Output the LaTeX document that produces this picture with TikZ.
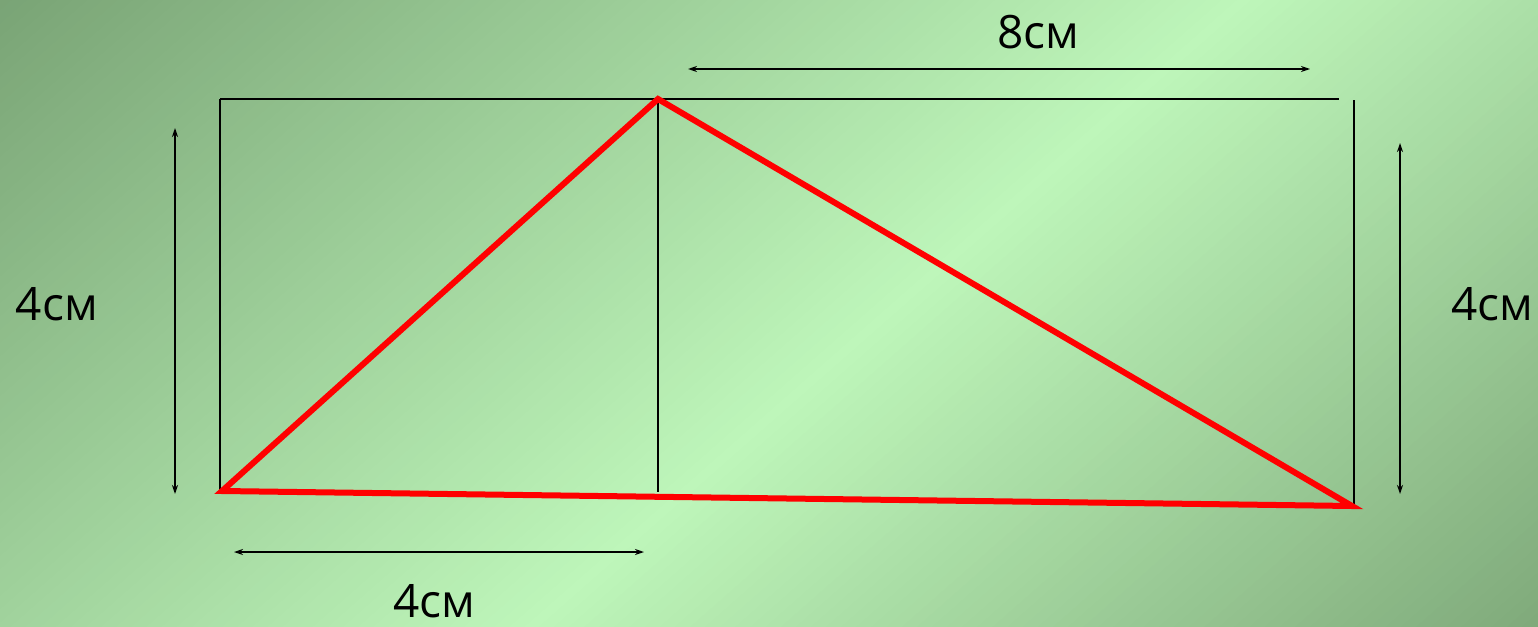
\documentclass[tikz,border=0pt]{standalone}
\usepackage{fontspec}
\setmainfont{Open Sans}
\usetikzlibrary{arrows.meta}
\definecolor{bgdark}{RGB}{120,162,116}
\definecolor{bglight}{RGB}{190,246,186}
\definecolor{bgdark2}{RGB}{126,168,121}
\definecolor{tri}{RGB}{255,0,0}
\tikzset{
  thin line/.style={black, line width=1.5pt},
  dim/.style={black, line width=1.4pt, {Stealth[length=9pt,width=6pt]}-{Stealth[length=9pt,width=6pt]}},
  redline/.style={tri, line width=6pt, line join=miter},
  lbl/.style={font=\fontsize{46}{52}\selectfont, inner sep=0pt, text=black}
}
\begin{document}
\begin{tikzpicture}[x=1pt,y=-1pt]
\useasboundingbox (0,0) rectangle (1538,626);
\begin{scope}
\clip (0,0) rectangle (1538,626);
\fill[bgdark] (0,0) rectangle (1538,626);
\foreach \a in {-850,-840,...,0} {
  \pgfmathsetmacro\p{max(0,min(100,100*(1+\a/840)))}
  \fill[bglight!\p!bgdark] ({890+0.66*\a+1125},{305+0.75*\a-990}) -- ({890+0.66*(\a+11)+1125},{305+0.75*(\a+11)-990}) -- ({890+0.66*(\a+11)-1125},{305+0.75*(\a+11)+990}) -- ({890+0.66*\a-1125},{305+0.75*\a+990}) -- cycle;
}
\foreach \a in {0,10,...,700} {
  \pgfmathsetmacro\p{max(0,min(100,100*(1-\a/680)))}
  \fill[bglight!\p!bgdark2] ({890+0.66*\a+1125},{305+0.75*\a-990}) -- ({890+0.66*(\a+11)+1125},{305+0.75*(\a+11)-990}) -- ({890+0.66*(\a+11)-1125},{305+0.75*(\a+11)+990}) -- ({890+0.66*\a-1125},{305+0.75*\a+990}) -- cycle;
}
\end{scope}
% frame coordinates
\coordinate (TL) at (220,99);
\coordinate (BL) at (220,492);
\coordinate (TM) at (658,99);
\coordinate (BM) at (658,492);
\coordinate (TR) at (1339,99);
\coordinate (RT) at (1354,100);
\coordinate (RB) at (1354,507);
% triangle vertices
\coordinate (A) at (222,491);
\coordinate (B) at (658,99);
\coordinate (C) at (1352,506);
% dimension ends
\coordinate (L1) at (175,128);
\coordinate (L2) at (175,494);
\coordinate (R1) at (1400,143);
\coordinate (R2) at (1400,494);
\coordinate (T1) at (688,69);
\coordinate (T2) at (1310,69);
\coordinate (D1) at (234,552);
\coordinate (D2) at (644,552);
% frame
\draw[thin line] (TL) -- (TR);
\draw[thin line] (TL) -- (BL);
\draw[thin line] (TM) -- (BM);
\draw[thin line] (RT) -- (RB);
% triangle
\draw[redline] (A) -- (B) -- (C) -- cycle;
% dimensions
\draw[dim] (L1) -- (L2);
\draw[dim] (R1) -- (R2);
\draw[dim] (T1) -- (T2);
\draw[dim] (D1) -- (D2);
% labels
\node[lbl] (lleft) at (57,304) {4см};
\node[lbl] (lright) at (1492,304) {4см};
\node[lbl] (ltop) at (1038,32) {8см};
\node[lbl] (lbot) at (434,601) {4см};
\end{tikzpicture}
\end{document}
